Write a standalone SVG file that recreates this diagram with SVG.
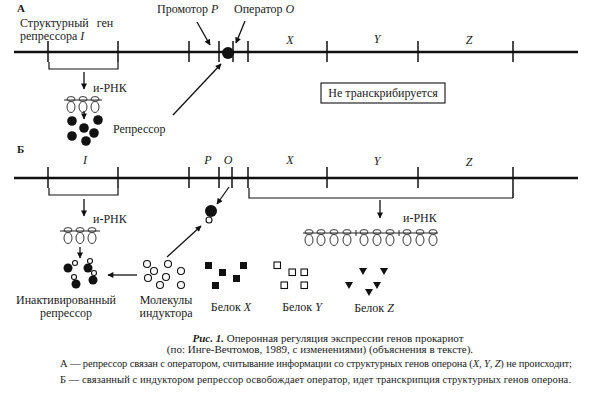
<svg xmlns="http://www.w3.org/2000/svg" width="591" height="408" viewBox="0 0 591 408">
<defs>
<style>
text{font-family:"Liberation Serif","Times New Roman",serif;fill:#1a1a1a}
.lb{font-size:12px}
.sm{font-size:11px}
.it{font-style:italic}
.bd{font-weight:bold}
.mid{text-anchor:middle}
.dna{stroke:#111;stroke-width:2.6;fill:none}
.tk{stroke:#111;stroke-width:1.5;fill:none}
.br{stroke:#111;stroke-width:1.2;fill:none}
.ar{stroke:#111;stroke-width:1.3;fill:none;marker-end:url(#ah)}
.rib{fill:#fff;stroke:#222;stroke-width:0.9}
.mr{stroke:#222;stroke-width:1;fill:none}
.blk{fill:#111}
.opn{fill:#fff;stroke:#111;stroke-width:1.1}
.cap{font-size:10.5px}
.cap1{font-size:11px}
</style>
<marker id="ah" viewBox="0 0 10 10" refX="9" refY="5" markerWidth="8" markerHeight="6" markerUnits="userSpaceOnUse" orient="auto"><path d="M0,0 L10,5 L0,10 z" fill="#111"/></marker>
<g id="ribo">
<ellipse class="rib" cx="0" cy="7" rx="4" ry="5.5"/>
<ellipse class="rib" cx="0" cy="-1" rx="4" ry="2.4"/>
</g>
</defs>
<rect width="591" height="408" fill="#fff"/>

<!-- Panel A -->
<g id="panelA-label"><text x="17" y="12" class="sm bd">А</text></g>
<g id="A-dna">
<line class="dna" x1="14" y1="52" x2="578" y2="52"/>
<path class="tk" d="M48,41V62M118,41V62M189,41V62M219,41V62M233,41V62M248,41V62M327,41V62M418,41V62M513,41V62"/>
</g>
<g id="A-gene-I">
<text x="20" y="27" class="lb" word-spacing="5">Структурный ген</text>
<text x="20" y="40" class="lb">репрессора <tspan class="it">I</tspan></text>
<path class="br" d="M49,62V69H118V62"/>
</g>
<g id="A-promoter"><text x="157" y="13" class="lb">Промотор <tspan class="it">P</tspan></text></g>
<g id="A-operator">
<text x="234" y="13" class="lb">Оператор <tspan class="it">O</tspan></text>
<circle class="blk" cx="228" cy="53" r="6"/>
</g>
<g id="A-genes">
<text x="290" y="44" class="lb it mid">X</text>
<text x="377" y="43" class="lb it mid">Y</text>
<text x="469" y="44" class="lb it mid">Z</text>
</g>
<g id="A-mrna">
<text x="93" y="92" class="lb">и-РНК</text>
<use href="#ribo" x="71" y="100"/>
<use href="#ribo" x="83" y="100"/>
<use href="#ribo" x="95" y="100"/>
<line class="mr" x1="64" y1="100" x2="102" y2="100"/>
</g>
<g id="A-repressor">
<circle class="blk" cx="72" cy="121" r="4.8"/>
<circle class="blk" cx="84" cy="128" r="4.8"/>
<circle class="blk" cx="98" cy="120" r="4.8"/>
<circle class="blk" cx="72" cy="136" r="4.8"/>
<circle class="blk" cx="94" cy="133" r="4.8"/>
<circle class="blk" cx="86" cy="141" r="4.8"/>
<text x="113" y="133" class="lb">Репрессор</text>
</g>
<g id="A-box">
<rect x="321" y="83" width="124" height="20" fill="#fff" stroke="#111" stroke-width="1.1"/>
<text x="383" y="97" class="lb mid">Не транскрибируется</text>
</g>

<!-- Panel B -->
<g id="panelB-label"><text x="17" y="153" class="sm bd">Б</text></g>
<g id="B-dna">
<line class="dna" x1="14" y1="178" x2="578" y2="178"/>
<path class="tk" d="M48,167V188M118,167V188M189,167V188M219,167V188M232,167V188M248,167V188M327,167V188M418,167V188M513,167V198"/>
<text x="85" y="164" class="lb it mid">I</text>
<text x="208" y="164" class="lb it mid">P</text>
<text x="228" y="164" class="lb it mid">O</text>
<text x="290" y="164" class="lb it mid">X</text>
<text x="377" y="165" class="lb it mid">Y</text>
<text x="469" y="166" class="lb it mid">Z</text>
<path class="br" d="M49,188V195H118V188"/>
<path class="br" d="M249,188V198H513"/>
</g>
<g id="B-mrna-I">
<text x="93" y="223" class="lb">и-РНК</text>
<use href="#ribo" x="68" y="231"/>
<use href="#ribo" x="80" y="231"/>
<use href="#ribo" x="92" y="231"/>
<line class="mr" x1="60" y1="231" x2="100" y2="231"/>
</g>
<g id="B-mrna-operon">
<text x="403" y="222" class="lb">и-РНК</text>
<use href="#ribo" x="309" y="233"/>
<use href="#ribo" x="321" y="233"/>
<use href="#ribo" x="334" y="233"/>
<use href="#ribo" x="347" y="233"/>
<use href="#ribo" x="364" y="233"/>
<use href="#ribo" x="377" y="233"/>
<use href="#ribo" x="390" y="233"/>
<use href="#ribo" x="407" y="233"/>
<use href="#ribo" x="420" y="233"/>
<use href="#ribo" x="433" y="233"/>
<line class="mr" x1="303" y1="233" x2="438" y2="233"/>
<path class="mr" d="M356,230V236M399,230V236"/>
</g>
<g id="B-inactive-repressor">
<circle class="blk" cx="68" cy="268" r="4.5"/><circle class="opn" cx="75" cy="263" r="2.5"/>
<circle class="blk" cx="88" cy="268" r="4.5"/><circle class="opn" cx="90" cy="261" r="2.5"/>
<circle class="blk" cx="76" cy="284" r="4.5"/><circle class="opn" cx="74" cy="277" r="2.5"/>
<circle class="blk" cx="93" cy="280" r="4.5"/><circle class="opn" cx="94" cy="273" r="2.5"/>
<text x="66" y="304" class="lb mid">Инактивированный</text>
<text x="66" y="317" class="lb mid">репрессор</text>
</g>
<g id="B-inducer">
<circle class="opn" cx="147" cy="264" r="3.5"/>
<circle class="opn" cx="148" cy="278" r="3.5"/>
<circle class="opn" cx="154" cy="271" r="3.5"/>
<circle class="opn" cx="168" cy="264" r="3.5"/>
<circle class="opn" cx="166" cy="277" r="3.5"/>
<circle class="opn" cx="181" cy="271" r="3.5"/>
<circle class="opn" cx="160" cy="285" r="3.5"/>
<circle class="opn" cx="181" cy="285" r="3.5"/>
<text x="166" y="304" class="lb mid">Молекулы</text>
<text x="166" y="317" class="lb mid">индуктора</text>
</g>
<g id="B-repressor-inducer">
<circle class="blk" cx="211" cy="211" r="6"/>
<circle class="opn" cx="209" cy="220" r="3"/>
</g>
<g id="B-protein-X">
<rect class="blk" x="205" y="262" width="7" height="7"/>
<rect class="blk" x="219" y="269" width="7" height="7"/>
<rect class="blk" x="240" y="262" width="7" height="7"/>
<rect class="blk" x="233" y="275" width="7" height="7"/>
<rect class="blk" x="212" y="282" width="7" height="7"/>
<text x="231" y="311" class="lb mid">Белок <tspan class="it">X</tspan></text>
</g>
<g id="B-protein-Y">
<rect class="opn" x="274" y="262" width="6.5" height="6.5"/>
<rect class="opn" x="289" y="269" width="6.5" height="6.5"/>
<rect class="opn" x="301" y="269" width="6.5" height="6.5"/>
<rect class="opn" x="281" y="282" width="6.5" height="6.5"/>
<rect class="opn" x="301" y="282" width="6.5" height="6.5"/>
<text x="302" y="311" class="lb mid">Белок <tspan class="it">Y</tspan></text>
</g>
<g id="B-protein-Z">
<path class="blk" d="M359,268h8l-4,7zM380,268h8l-4,7zM345,282h8l-4,7zM373,282h8l-4,7zM365,289h8l-4,7z"/>
<text x="374" y="312" class="lb mid">Белок <tspan class="it">Z</tspan></text>
</g>

<g id="connectors">
<line class="ar" x1="197" y1="22" x2="210" y2="45"/>
<line class="ar" x1="245" y1="21" x2="236" y2="43"/>
<line class="ar" x1="173" y1="115" x2="221" y2="64"/>
<line class="ar" x1="84" y1="72" x2="84" y2="89"/>
<line class="ar" x1="84" y1="111" x2="84" y2="119"/>
<line class="ar" x1="84" y1="199" x2="84" y2="216"/>
<line class="ar" x1="80" y1="247" x2="80" y2="258" stroke-width="0.9"/>
<line class="ar" x1="137" y1="275" x2="108" y2="275"/>
<line class="ar" x1="167" y1="257" x2="201" y2="226"/>
<line class="ar" x1="229" y1="187" x2="217" y2="204"/>
<line class="ar" x1="380" y1="200" x2="380" y2="218"/>
</g>

<g id="caption">
<text x="328" y="342" class="cap1 mid"><tspan class="bd it">Рис. 1.</tspan> Оперонная регуляция экспрессии генов прокариот</text>
<text x="320" y="353" class="cap1 mid">(по: Инге-Вечтомов, 1989, с изменениями) (объяснения в тексте).</text>
<text x="60" y="367" class="cap" textLength="512" lengthAdjust="spacing">А — репрессор связан с оператором, считывание информации со структурных генов оперона (<tspan class="it">X</tspan>, <tspan class="it">Y</tspan>, <tspan class="it">Z</tspan>) не происходит;</text>
<text x="60" y="383" class="cap" textLength="511" lengthAdjust="spacing">Б — связанный с индуктором репрессор освобождает оператор, идет транскрипция структурных генов оперона.</text>
</g>
</svg>
